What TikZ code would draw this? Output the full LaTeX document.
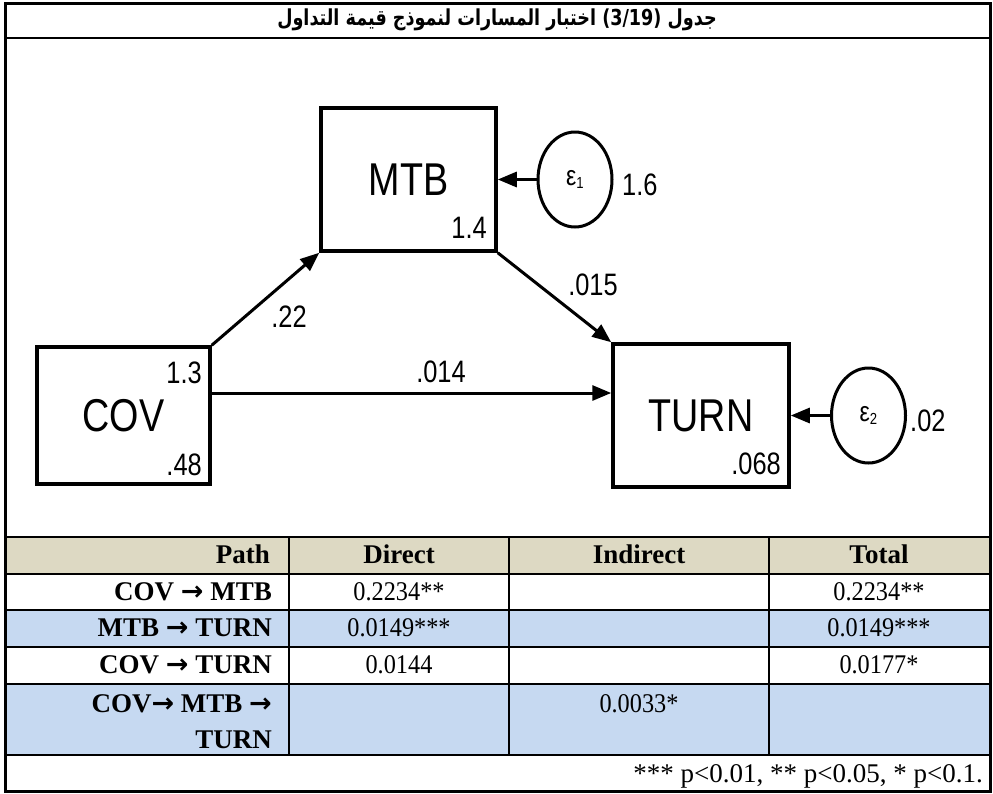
\documentclass[tikz,border=0pt]{standalone}
\usepackage{fontspec}
\setmainfont{Liberation Serif}
\newfontfamily\diagfont[FakeStretch=0.82]{Liberation Sans}
\newfontfamily\tabfont[FakeStretch=0.9]{Liberation Serif}
\newfontfamily\arrowfont{DejaVu Sans}
\newfontfamily\arabicfont[Script=Arabic,FakeStretch=0.8]{DejaVu Sans}
\TeXXeTstate=1
\usepackage{tikz}
\usetikzlibrary{arrows.meta,positioning,shapes.geometric}
\definecolor{semtan}{HTML}{DDD9C3}
\definecolor{semblue}{HTML}{C6D9F1}
\newcommand{\semeps}[1]{ε\raisebox{-3pt}{\fontsize{16}{16}\selectfont #1}}
\newcommand{\semto}{{\arrowfont\bfseries →}}
\tikzset{
  semblock/.style={draw=black, line width=3.5pt, inner sep=0pt,
    minimum width=175pt, minimum height=143pt,
    font=\diagfont\fontsize{46}{50}\selectfont},
  semerror/.style={ellipse, draw=black, line width=3pt, inner sep=0pt,
    minimum width=74pt, minimum height=95pt,
    font=\diagfont\fontsize{28}{30}\selectfont},
  sempath/.style={-{Triangle[length=19pt,width=15pt]}, line width=3pt, draw=black},
  semnum/.style={font=\diagfont\fontsize{31}{34}\selectfont, inner sep=0pt},
  semcell/.style={font=\tabfont\fontsize{27}{30}\selectfont, inner sep=0pt},
  semhead/.style={inner sep=0pt, font=\bfseries\fontsize{27}{30}\selectfont},
  semrule/.style={line width=2pt, draw=black}
}

\begin{document}
\begin{tikzpicture}[x=1pt, y=-1pt]
  \useasboundingbox (0,0) rectangle (993,793);
  % table shading
  \fill[semtan] (5,537) rectangle (990,574);
  \fill[semblue] (5,610) rectangle (990,647);
  \fill[semblue] (5,684) rectangle (990,755);
  \foreach \y in {537,574,610,647,684,755}
    \draw[semrule] (5,\y) -- (990,\y);
  \foreach \x in {289,509,769}
    \draw[semrule] (\x,537) -- (\x,755);
  \draw[line width=2.5pt] (5,38) -- (990,38);
  \draw[line width=3pt] (5,3) rectangle (990.5,791);

  \node (title) at (497,20) {\arabicfont\bfseries\fontsize{22}{24}\selectfont
    \beginR جدول \beginL(3/19)\endL{} اختبار المسارات لنموذج قيمة التداول\endR};

  % path diagram
  \node[semblock] (MTB) at (408.5,179.5) {MTB};
  \node[semblock, minimum width=173pt, minimum height=137pt] (COV) at (123.5,415.5) {COV};
  \node[semblock, minimum width=176pt] (TURN) at (701,415.5) {TURN};
  \node[semerror] (e1) at (575,179.5) {\semeps{1}};
  \node[semerror] (e2) at (868.5,415.5) {\semeps{2}};

  \draw[sempath] (COV.north east) -- (MTB.south west);
  \draw[sempath] (MTB.south east) -- (TURN.north west);
  \draw[sempath] ([yshift=22.5pt]COV.east) -- ([yshift=22.5pt]TURN.west);
  \draw[sempath] (e1) -- (MTB);
  \draw[sempath] (e2) -- (TURN);

  \node[semnum, anchor=base east] at (487,238) {1.4};
  \node[semnum, anchor=base east] at (202,383) {1.3};
  \node[semnum, anchor=base east] at (202,475) {.48};
  \node[semnum, anchor=base east] at (781,474) {.068};
  \node[semnum, anchor=base west] at (622,195) {1.6};
  \node[semnum, anchor=base west] at (910,431) {.02};
  \node[semnum, anchor=base] at (289,327) {.22};
  \node[semnum, anchor=base] at (593,295) {.015};
  \node[semnum, anchor=base] at (441,382) {.014};

  % effects table
  \node[semhead, anchor=base east] at (270,563) {Path};
  \node[semhead, anchor=base] at (399,563) {Direct};
  \node[semhead, anchor=base] at (639,563) {Indirect};
  \node[semhead, anchor=base] at (879,563) {Total};

  \node[semhead, anchor=base east] at (272,600) {COV \semto{} MTB};
  \node[semhead, anchor=base east] at (272,636) {MTB \semto{} TURN};
  \node[semhead, anchor=base east] at (272,673) {COV \semto{} TURN};
  \node[semhead, anchor=base east] at (272,712) {COV\semto{} MTB \semto};
  \node[semhead, anchor=base east] at (272,748) {TURN};

  \node[semcell, anchor=base] at (399,600) {0.2234**};
  \node[semcell, anchor=base] at (879,600) {0.2234**};
  \node[semcell, anchor=base] at (399,636) {0.0149***};
  \node[semcell, anchor=base] at (879,636) {0.0149***};
  \node[semcell, anchor=base] at (399,673) {0.0144};
  \node[semcell, anchor=base] at (879,673) {0.0177*};
  \node[semcell, anchor=base] at (639,712) {0.0033*};

  \node[inner sep=0pt, anchor=base east, font=\fontsize{27}{30}\selectfont]
    at (983,782) {*** p<0.01, ** p<0.05, * p<0.1.};
\end{tikzpicture}
\end{document}
